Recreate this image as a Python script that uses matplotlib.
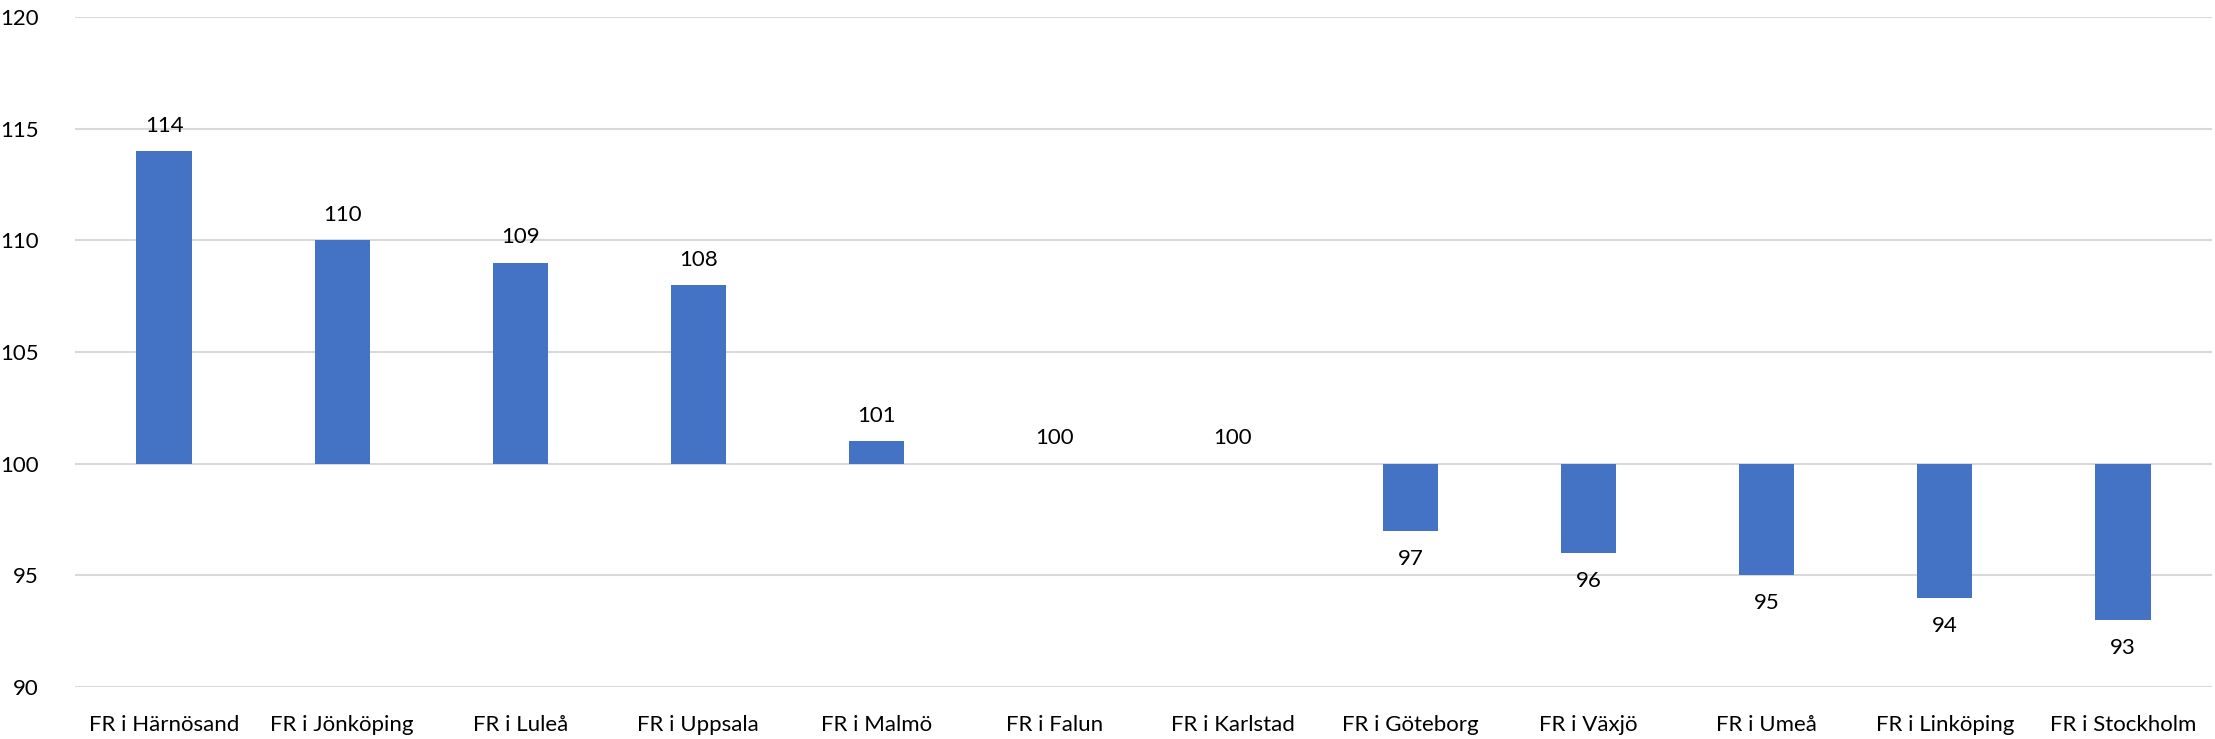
import matplotlib
matplotlib.use("Agg")
import matplotlib.pyplot as plt

categories = ["FR i Härnösand", "FR i Jönköping", "FR i Luleå", "FR i Uppsala", "FR i Malmö",
              "FR i Falun", "FR i Karlstad", "FR i Göteborg", "FR i Växjö", "FR i Umeå",
              "FR i Linköping", "FR i Stockholm"]
values = [114, 110, 109, 108, 101, 100, 100, 97, 96, 95, 94, 93]
baseline = 100
yticks = [90, 95, 100, 105, 110, 115, 120]

plt.rcParams['font.family'] = ['Lato', 'DejaVu Sans']
FS = 16

fig = plt.figure(figsize=(22.15, 7.39), dpi=100)
ax = fig.add_axes([75/2215, 1-687/739, (2212-75)/2215, (687-17)/739])

x = list(range(len(categories)))
heights = [v - baseline for v in values]
ax.bar(x, heights, bottom=baseline, width=0.31, color="#4472C4", zorder=3)

for xi, v in zip(x, values):
    if v >= baseline:
        ax.annotate(str(v), (xi, v), xytext=(0, 11), textcoords="offset points",
                    ha="center", va="bottom", fontsize=FS, color="#000000")
    else:
        ax.annotate(str(v), (xi, v), xytext=(0, -13), textcoords="offset points",
                    ha="center", va="top", fontsize=FS, color="#000000")

ax.set_ylim(90, 120)
ax.set_xlim(-0.5, len(categories) - 0.5)
ax.set_yticks(yticks)
ax.set_yticklabels([str(t) for t in yticks], fontsize=FS)
ax.set_xticks(x)
ax.set_xticklabels(categories, fontsize=FS)
ax.tick_params(axis="both", length=0)
ax.tick_params(axis="x", pad=20)
ax.tick_params(axis="y", pad=26)
ax.grid(axis="y", color="#D9D9D9", linewidth=1.5, zorder=0)
for s in ax.spines.values():
    s.set_visible(False)

fig.savefig("out.png", dpi=100)
